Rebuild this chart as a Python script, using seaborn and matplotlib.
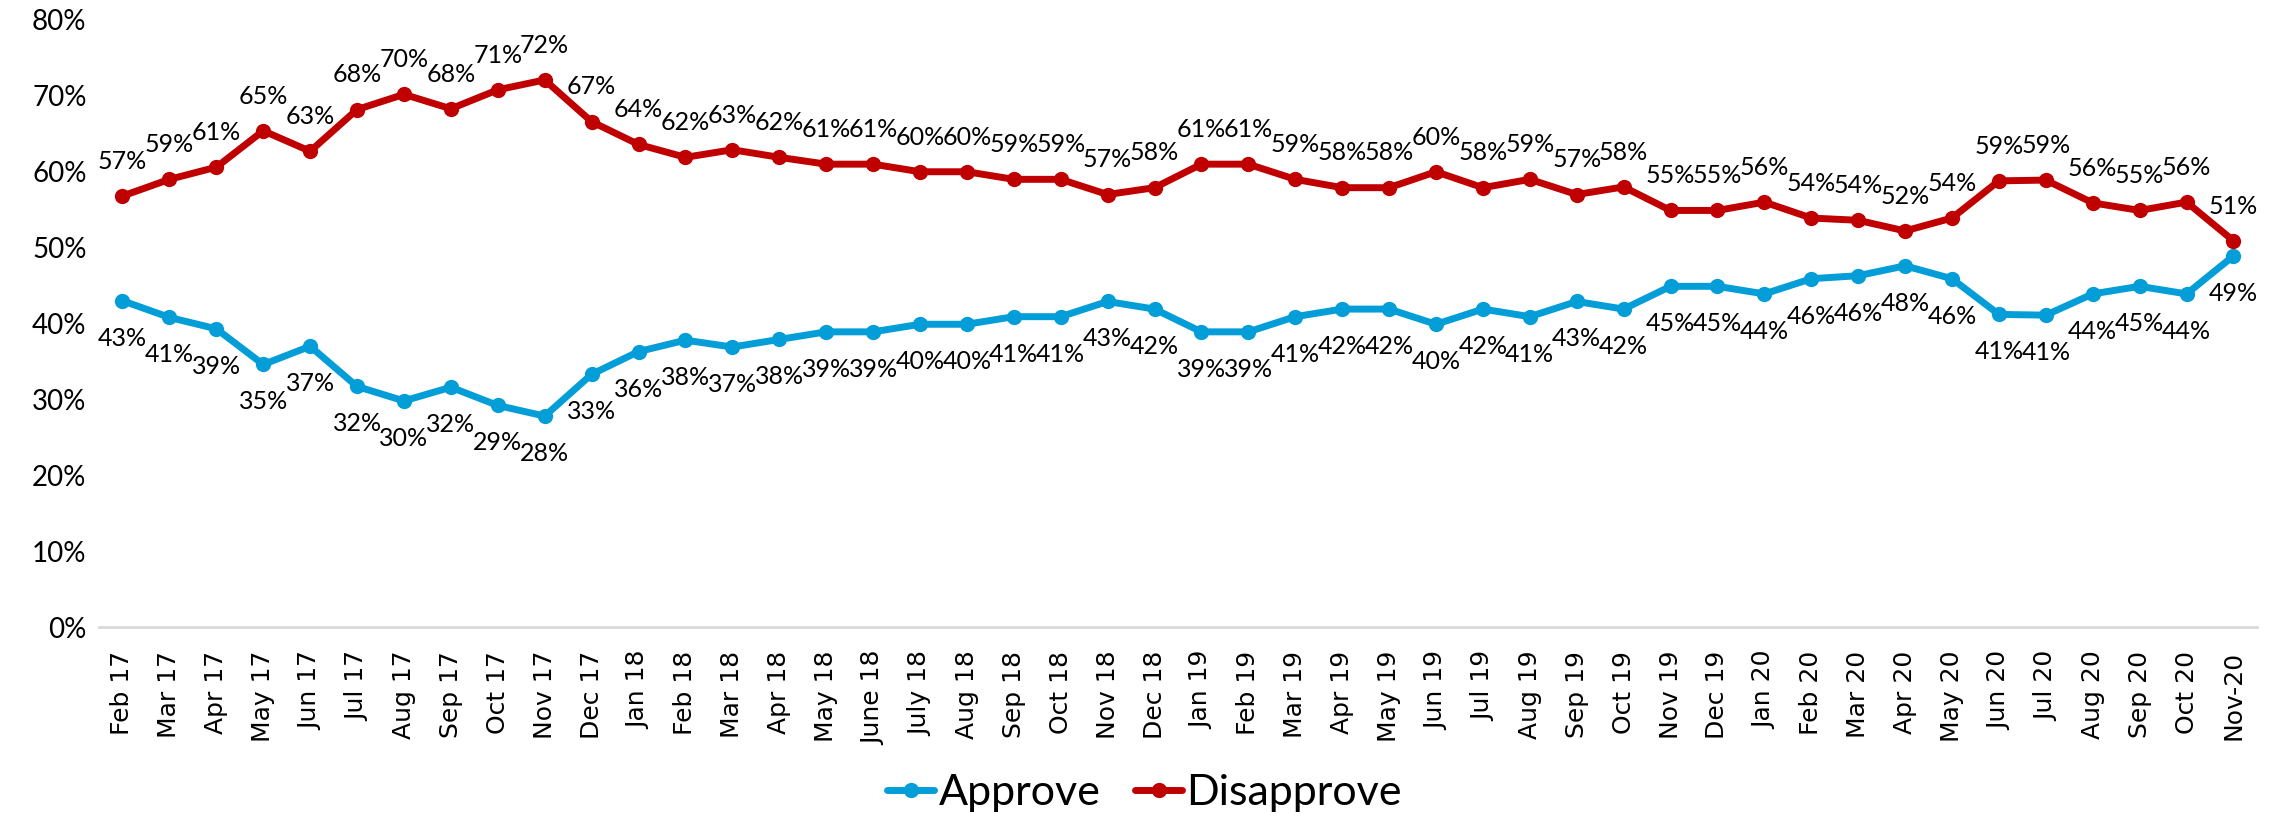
import numpy as np
import pandas as pd
import seaborn as sns
import matplotlib.pyplot as plt

months = ["Feb 17", "Mar 17", "Apr 17", "May 17", "Jun 17", "Jul 17", "Aug 17", "Sep 17",
          "Oct 17", "Nov 17", "Dec 17", "Jan 18", "Feb 18", "Mar 18", "Apr 18", "May 18",
          "June 18", "July 18", "Aug 18", "Sep 18", "Oct 18", "Nov 18", "Dec 18", "Jan 19",
          "Feb 19", "Mar 19", "Apr 19", "May 19", "Jun 19", "Jul 19", "Aug 19", "Sep 19",
          "Oct 19", "Nov 19", "Dec 19", "Jan 20", "Feb 20", "Mar 20", "Apr 20", "May 20",
          "Jun 20", "Jul 20", "Aug 20", "Sep 20", "Oct 20", "Nov-20"]

approve = [43.0, 40.8, 39.3, 34.6, 37.0, 31.7, 29.8, 31.6, 29.2, 27.8, 33.3, 36.3,
           37.8, 36.9, 37.9, 38.9, 38.9, 39.9, 39.9, 40.9, 40.9, 42.9, 41.9, 38.9,
           38.9, 40.9, 41.9, 41.9, 39.9, 41.9, 40.9, 42.9, 41.9, 44.9, 44.9, 43.9,
           45.9, 46.3, 47.6, 45.9, 41.2, 41.1, 43.9, 44.9, 43.9, 48.9]

disapprove = [56.8, 59.0, 60.6, 65.4, 62.7, 68.2, 70.2, 68.3, 70.8, 72.1, 66.6, 63.6,
              61.9, 62.9, 61.9, 61.0, 61.0, 60.0, 60.0, 59.0, 59.0, 57.0, 57.9, 61.0,
              61.0, 59.0, 57.9, 57.9, 60.0, 57.9, 59.0, 57.0, 58.0, 54.9, 54.9, 56.0,
              53.9, 53.6, 52.2, 53.9, 58.8, 58.9, 55.9, 54.9, 56.0, 50.9]

series = ["Approve", "Disapprove"]
colors = {"Approve": "#039dd8", "Disapprove": "#c00000"}

x = np.arange(len(months))
df = pd.DataFrame({
    "x": np.concatenate([x, x]),
    "value": approve + disapprove,
    "series": ["Approve"] * len(x) + ["Disapprove"] * len(x),
})

sns.set_style("white")
plt.rcParams["font.family"] = ["Lato", "DejaVu Sans"]
plt.rcParams["text.color"] = "black"
plt.rcParams["xtick.color"] = "black"
plt.rcParams["ytick.color"] = "black"

fig = plt.figure(figsize=(22.82, 8.16), dpi=100)
ax = fig.add_axes([0.0434, 0.2316, 0.9456, 0.7439])

sns.lineplot(data=df, x="x", y="value", hue="series", hue_order=series,
             palette=colors, marker="o", markersize=11, markeredgewidth=0,
             linewidth=5, ax=ax, clip_on=False)

# data labels: disapprove above, approve below
for xi, v in zip(x, disapprove):
    ax.annotate(f"{v:.0f}%", (xi, v), xytext=(0, 25), textcoords="offset points",
                ha="center", va="center", fontsize=18, color="black")
for xi, v in zip(x, approve):
    ax.annotate(f"{v:.0f}%", (xi, v), xytext=(0, -27), textcoords="offset points",
                ha="center", va="center", fontsize=18, color="black")

ax.set_xlim(-0.5, len(months) - 0.5)
ax.set_ylim(0, 80)
ax.set_yticks(range(0, 81, 10))
ax.set_yticklabels([f"{t}%" for t in range(0, 81, 10)], fontsize=20)
ax.set_xticks(x)
ax.set_xticklabels(months, rotation=90, fontsize=18, family="DejaVu Sans")
ax.tick_params(axis="y", length=0, pad=9)
ax.tick_params(axis="x", length=0, pad=17)
ax.set_xlabel("")
ax.set_ylabel("")
for s in ["top", "right", "left"]:
    ax.spines[s].set_visible(False)
ax.spines["bottom"].set_color("#d9d9d9")
ax.spines["bottom"].set_linewidth(2)

handles, labels = ax.get_legend_handles_labels()
ax.legend(handles, labels, loc="center", bbox_to_anchor=(0.5015, 0.028),
          bbox_transform=fig.transFigure, ncol=2, frameon=False, fontsize=31,
          handlelength=1.1, handletextpad=0.1, columnspacing=0.8)

fig.savefig("out.png", dpi=100)
